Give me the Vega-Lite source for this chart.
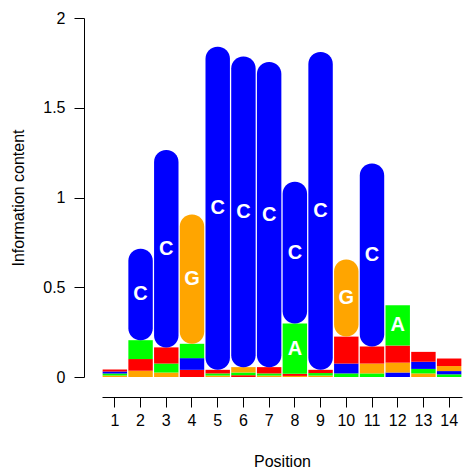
{
  "$schema": "https://vega.github.io/schema/vega-lite/v6.json",
  "width": 360,
  "height": 359,
  "autosize": {"type": "none"},
  "padding": {"left": 102, "top": 18, "right": 4, "bottom": 99},
  "background": "white",
  "config": {
    "view": {"stroke": null},
    "font": "Liberation Sans",
    "axis": {
      "grid": false,
      "domainColor": "black",
      "tickColor": "black",
      "labelColor": "black",
      "titleColor": "black",
      "labelFont": "Liberation Sans",
      "titleFont": "Liberation Sans",
      "labelFontSize": 16,
      "titleFontSize": 16,
      "titleFontWeight": "normal",
      "tickSize": 10,
      "domainWidth": 1,
      "tickWidth": 1
    }
  },
  "data": {
    "values": [
      {"pos": 1, "letter": "G", "bits": 0.009}, {"pos": 1, "letter": "A", "bits": 0.010}, {"pos": 1, "letter": "C", "bits": 0.011}, {"pos": 1, "letter": "T", "bits": 0.012},
      {"pos": 2, "letter": "G", "bits": 0.035}, {"pos": 2, "letter": "T", "bits": 0.065}, {"pos": 2, "letter": "A", "bits": 0.105}, {"pos": 2, "letter": "C", "bits": 0.51},
      {"pos": 3, "letter": "G", "bits": 0.025}, {"pos": 3, "letter": "A", "bits": 0.05}, {"pos": 3, "letter": "T", "bits": 0.09}, {"pos": 3, "letter": "C", "bits": 1.1},
      {"pos": 4, "letter": "T", "bits": 0.04}, {"pos": 4, "letter": "C", "bits": 0.065}, {"pos": 4, "letter": "A", "bits": 0.08}, {"pos": 4, "letter": "G", "bits": 0.72},
      {"pos": 5, "letter": "G", "bits": 0.008}, {"pos": 5, "letter": "A", "bits": 0.012}, {"pos": 5, "letter": "T", "bits": 0.02}, {"pos": 5, "letter": "C", "bits": 1.8},
      {"pos": 6, "letter": "T", "bits": 0.01}, {"pos": 6, "letter": "A", "bits": 0.015}, {"pos": 6, "letter": "G", "bits": 0.03}, {"pos": 6, "letter": "C", "bits": 1.73},
      {"pos": 7, "letter": "G", "bits": 0.008}, {"pos": 7, "letter": "A", "bits": 0.012}, {"pos": 7, "letter": "T", "bits": 0.035}, {"pos": 7, "letter": "C", "bits": 1.70},
      {"pos": 8, "letter": "G", "bits": 0.006}, {"pos": 8, "letter": "T", "bits": 0.012}, {"pos": 8, "letter": "A", "bits": 0.28}, {"pos": 8, "letter": "C", "bits": 0.79},
      {"pos": 9, "letter": "G", "bits": 0.008}, {"pos": 9, "letter": "A", "bits": 0.014}, {"pos": 9, "letter": "T", "bits": 0.018}, {"pos": 9, "letter": "C", "bits": 1.77},
      {"pos": 10, "letter": "A", "bits": 0.02}, {"pos": 10, "letter": "C", "bits": 0.055}, {"pos": 10, "letter": "T", "bits": 0.15}, {"pos": 10, "letter": "G", "bits": 0.43},
      {"pos": 11, "letter": "A", "bits": 0.02}, {"pos": 11, "letter": "G", "bits": 0.055}, {"pos": 11, "letter": "T", "bits": 0.095}, {"pos": 11, "letter": "C", "bits": 1.02},
      {"pos": 12, "letter": "C", "bits": 0.025}, {"pos": 12, "letter": "G", "bits": 0.055}, {"pos": 12, "letter": "T", "bits": 0.095}, {"pos": 12, "letter": "A", "bits": 0.225},
      {"pos": 13, "letter": "G", "bits": 0.02}, {"pos": 13, "letter": "A", "bits": 0.025}, {"pos": 13, "letter": "C", "bits": 0.04}, {"pos": 13, "letter": "T", "bits": 0.055},
      {"pos": 14, "letter": "A", "bits": 0.015}, {"pos": 14, "letter": "C", "bits": 0.018}, {"pos": 14, "letter": "G", "bits": 0.028}, {"pos": 14, "letter": "T", "bits": 0.042}
    ]
  },
  "transform": [
    {"stack": "bits", "groupby": ["pos"], "sort": [{"field": "bits", "order": "ascending"}], "as": ["y0", "y1"]},
    {"calculate": "(datum.y0 + datum.y1) / 2", "as": "mid"}
  ],
  "encoding": {
    "x": {
      "field": "pos",
      "type": "ordinal",
      "sort": "ascending",
      "scale": {"paddingInner": 0.05, "paddingOuter": 0.025},
      "axis": {"title": "Position", "labelAngle": 0, "offset": 20, "labelPadding": 5, "titlePadding": 25}
    },
    "color": {
      "field": "letter",
      "type": "nominal",
      "scale": {"domain": ["A", "C", "G", "T"], "range": ["#00FF00", "#0000FF", "#FFA500", "#FF0000"]},
      "legend": null
    }
  },
  "layer": [
    {
      "transform": [{"filter": "datum.bits < 0.3"}],
      "mark": {"type": "bar"},
      "encoding": {
        "y": {
          "field": "y0",
          "type": "quantitative",
          "scale": {"domain": [0, 2], "nice": false},
          "axis": {"title": "Information content", "values": [0, 0.5, 1, 1.5, 2], "format": "~g", "offset": 18, "labelPadding": 9, "titlePadding": 16}
        },
        "y2": {"field": "y1"}
      }
    },
    {
      "transform": [{"filter": "datum.bits >= 0.3"}],
      "mark": {"type": "bar", "cornerRadius": 12},
      "encoding": {
        "y": {"field": "y0", "type": "quantitative"},
        "y2": {"field": "y1"}
      }
    },
    {
      "transform": [{"filter": "datum.bits >= 0.2"}],
      "mark": {"type": "text", "fontSize": 20, "fontWeight": "bold", "baseline": "middle", "align": "center"},
      "encoding": {
        "y": {"field": "mid", "type": "quantitative"},
        "text": {"field": "letter"},
        "color": {"value": "white"}
      }
    }
  ]
}
